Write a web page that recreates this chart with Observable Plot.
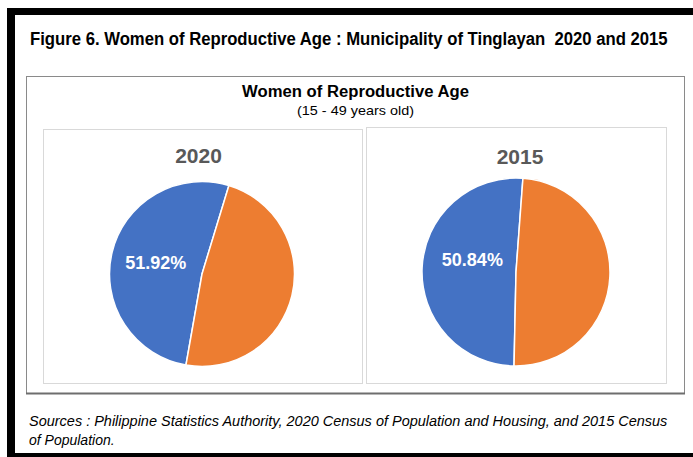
<!DOCTYPE html>
<html><head><meta charset="utf-8">
<script src="https://cdn.jsdelivr.net/npm/d3@7"></script>
<script src="https://cdn.jsdelivr.net/npm/@observablehq/plot@0.6"></script>
<style>
html,body{margin:0;padding:0;background:#fff;}
#root{position:relative;width:693px;height:457px;overflow:hidden;font-family:"Liberation Sans",Arial,sans-serif;}
#root > svg, #root > figure, #root > div{position:absolute;margin:0;}
</style></head><body><div id="root"></div>
<script>
// ---------- data ----------
const categories = ["Women 15-49 years old", "Other population"];
const years = ["2020", "2015"];
const values2020 = [51.92, 48.08];
const values2015 = [50.84, 49.16];
const sliceColors = ["#4472C4", "#ED7D31"];
const figureTitle = "Figure 6. Women of Reproductive Age : Municipality of Tinglayan  2020 and 2015";
const chartTitle = "Women of Reproductive Age";
const chartSubtitle = "(15 - 49 years old)";
const sourceLines = [
  "Sources : Philippine Statistics Authority, 2020 Census of Population and Housing, and 2015 Census",
  "of Population."
];

// ---------- layout ----------
const panels = [
  {year: years[0], values: values2020, left: 43, top: 129, w: 320, h: 255, cx: 159, cy: 145, r: 92.5, start: 190, labelR: 0.52, labelDy: 0, titleDx: -5, titleDy: 27},
  {year: years[1], values: values2015, left: 366, top: 127, w: 301, h: 257, cx: 150, cy: 145, r: 94, start: 181.2, labelR: 0.47, labelDy: -10, titleDx: 3, titleDy: 29.5}
];

const root = document.getElementById("root");

// overlay (frames and headings)
const ov = d3.create("svg").attr("width", 693).attr("height", 457).style("left", "0px").style("top", "0px")
  .style("font-family", '"Liberation Sans", Arial, sans-serif');
root.appendChild(ov.node());
// black frame
ov.append("rect").attr("x", 7).attr("y", 8).attr("width", 8).attr("height", 449).attr("fill", "#000");
ov.append("rect").attr("x", 7).attr("y", 8).attr("width", 686).attr("height", 7).attr("fill", "#000");
ov.append("rect").attr("x", 7).attr("y", 453).attr("width", 686).attr("height", 4).attr("fill", "#000");
// outer chart box
ov.append("rect").attr("x", 26.5).attr("y", 76.5).attr("width", 658).attr("height", 317).attr("fill", "none").attr("stroke", "#8a8a8a").attr("stroke-width", 1);
ov.append("line").attr("x1", 26).attr("x2", 685).attr("y1", 393.5).attr("y2", 393.5).attr("stroke", "#6e6e6e").attr("stroke-width", 2);
// panel frames
panels.forEach(p => {
  ov.append("rect").attr("x", p.left + 0.5).attr("y", p.top + 0.5).attr("width", p.w - 1).attr("height", p.h - 1)
    .attr("fill", "none").attr("stroke", "#d9d9d9").attr("stroke-width", 1);
});
// text placed at (x, baseline y); optionally squeezed horizontally to a target width
function addText(x, y, str, opts) {
  const g = ov.append("g");
  const t = g.append("text").attr("x", 0).attr("y", 0).text(str)
    .style("white-space", "pre").attr("xml:space", "preserve")
    .attr("font-size", opts.size).attr("font-weight", opts.weight || "normal")
    .attr("font-style", opts.style || "normal").attr("fill", opts.fill || "#000")
    .attr("text-anchor", opts.anchor || "start");
  let sx = 1;
  if (opts.len) {
    const natural = t.node().getComputedTextLength();
    if (natural > 0) sx = opts.len / natural;
  }
  g.attr("transform", `translate(${x},${y}) scale(${sx},1)`);
  return t;
}
addText(30, 45, figureTitle, {size: 17.5, weight: "bold", len: 638});
addText(355.5, 97, chartTitle, {size: 17, weight: "bold", anchor: "middle", len: 227});
addText(355.5, 115, chartSubtitle, {size: 13, anchor: "middle", len: 117});
addText(29, 426, sourceLines[0], {size: 14, style: "italic", len: 639});
addText(29, 445, sourceLines[1], {size: 14, style: "italic"});

// ---------- pie mark (render function using Plot scales) ----------
function pieMark(rows, startDeg) {
  return (index, scales) => {
    const cx = scales.x(0), cy = scales.y(0);
    const r = Math.abs(scales.x(1) - scales.x(0));
    const a0 = startDeg * Math.PI / 180;
    const pie = d3.pie().sort(null).value(d => d.value).startAngle(a0).endAngle(a0 + 2 * Math.PI);
    const arc = d3.arc().innerRadius(0).outerRadius(r);
    const g = d3.create("svg:g").attr("transform", `translate(${cx},${cy})`);
    g.selectAll("path").data(pie(rows)).join("path")
      .attr("d", arc)
      .attr("fill", d => scales.color ? scales.color(d.data.category) : sliceColors[categories.indexOf(d.data.category)])
      .attr("stroke", "#fff").attr("stroke-width", 1.5).attr("stroke-linejoin", "round");
    return g.node();
  };
}

panels.forEach(p => {
  const rows = categories.map((c, i) => ({category: c, value: p.values[i]}));
  const total = d3.sum(rows, d => d.value);
  const a0 = p.start * Math.PI / 180;
  const mid = a0 + (rows[0].value / total) * Math.PI; // middle of first slice
  const label = [{category: rows[0].category, text: rows[0].value.toFixed(2) + "%",
    x: p.labelR * Math.sin(mid), y: p.labelR * Math.cos(mid)}];
  const chart = Plot.plot({
    width: p.w, height: p.h, margin: 0,
    x: {domain: [-1, 1], range: [p.cx - p.r, p.cx + p.r], axis: null},
    y: {domain: [-1, 1], range: [p.cy + p.r, p.cy - p.r], axis: null},
    color: {domain: categories, range: sliceColors},
    style: {background: "transparent", overflow: "visible", fontFamily: '"Liberation Sans", Arial, sans-serif'},
    marks: [
      pieMark(rows, p.start),
      Plot.text(label, {x: "x", y: "y", text: "text", fill: "white", fontSize: 18, fontWeight: "bold", dy: p.labelDy}),
      Plot.text([p.year], {frameAnchor: "top", lineAnchor: "middle", text: d => d, dx: p.titleDx, dy: p.titleDy, fontSize: 21, fontWeight: "bold", fill: "#595959"})
    ]
  });
  chart.style.left = p.left + "px";
  chart.style.top = p.top + "px";
  chart.style.position = "absolute";
  root.appendChild(chart);
});
</script>
</body></html>
